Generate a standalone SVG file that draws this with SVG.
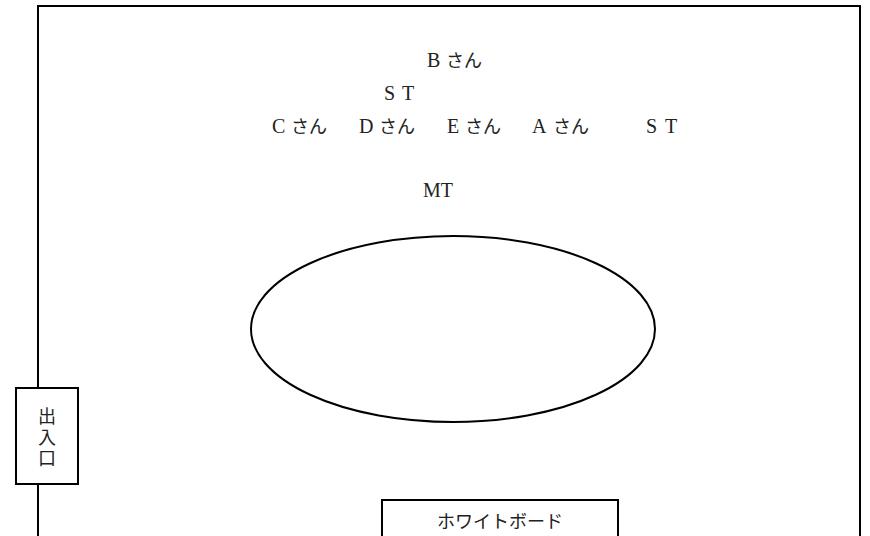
<svg xmlns="http://www.w3.org/2000/svg" width="870" height="536" viewBox="0 0 870 536">
<style>
.ln{fill:none;stroke:#000;stroke-width:2}
.bx{fill:#fff;stroke:#000;stroke-width:2}
.t{font-family:"Liberation Serif","Noto Sans CJK JP",serif;font-size:20px;fill:#222}
.j{font-family:"Noto Sans CJK JP",sans-serif;font-size:18px;fill:#222}
</style>
<rect width="870" height="536" fill="#fff"/>
<g id="room"><path class="ln" d="M38,540 V6 H860 V540"/></g>
<g id="table"><ellipse class="ln" cx="453" cy="329" rx="202" ry="93"/></g>
<g id="entrance"><rect class="bx" x="16" y="388" width="62" height="96"/>
<text class="j" x="47" y="407" writing-mode="tb" letter-spacing="3">出入口</text></g>
<g id="whiteboard"><rect class="bx" x="382" y="500" width="236" height="45"/>
<text class="j" x="500" y="528" text-anchor="middle">ホワイトボード</text></g>
<g id="labels">
<text class="t" y="67"><tspan x="427">B</tspan><tspan class="j" x="446">さん</tspan></text>
<text class="t" y="100"><tspan x="384">S</tspan><tspan x="402">T</tspan></text>
<text class="t" y="133"><tspan x="272">C</tspan><tspan class="j" x="291">さん</tspan><tspan x="359">D</tspan><tspan class="j" x="379">さん</tspan><tspan x="447">E</tspan><tspan class="j" x="465">さん</tspan><tspan x="532">A</tspan><tspan class="j" x="553">さん</tspan><tspan x="646">S</tspan><tspan x="665">T</tspan></text>
<text class="t" y="197"><tspan x="423">MT</tspan></text>
</g>
<g id="connectors"/>
</svg>
